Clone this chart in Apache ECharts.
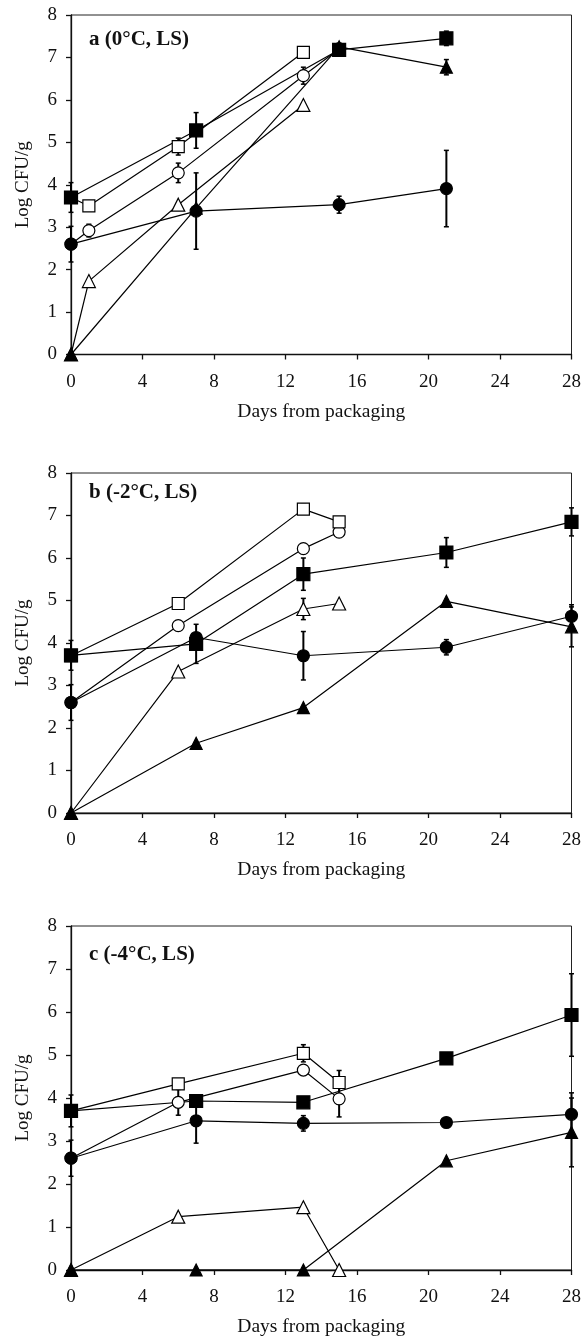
<!DOCTYPE html>
<html>
<head>
<meta charset="utf-8">
<script src="https://cdn.jsdelivr.net/npm/echarts@6/dist/echarts.min.js"></script>
<style>
html,body{margin:0;padding:0;background:#fff;}
#chart{width:584px;height:1338px;}
</style>
</head>
<body>
<div id="chart"></div>
<script>
// ---- DATA: [day, log CFU/g, error] ----
const panelTitles = ['a (0°C, LS)', 'b (-2°C, LS)', 'c (-4°C, LS)'];
const xAxisTitle = 'Days from packaging';
const yAxisTitle = 'Log CFU/g';

// Panel a (0°C)
const a_openTriangle   = [[0,0,0],[1,1.73,0],[6,3.53,0],[13,5.88,0]];
const a_openCircle     = [[0,2.6,0],[1,2.92,0.15],[6,4.28,0.23],[13,6.57,0.2],[15,7.2,0]];
const a_openSquare     = [[0,3.7,0],[1,3.5,0],[6,4.9,0.2],[13,7.12,0]];
const a_filledCircle   = [[0,2.6,0.42],[7,3.38,0.9],[15,3.53,0.2],[21,3.91,0.9]];
const a_filledTriangle = [[0,0,0],[7,3.45,0],[15,7.25,0.08],[21,6.77,0.18]];
const a_filledSquare   = [[0,3.7,0.35],[7,5.28,0.42],[15,7.18,0],[21,7.45,0.17]];

// Panel b (-2°C)
const b_openTriangle   = [[0,0,0],[6,3.33,0],[13,4.8,0.25],[15,4.93,0]];
const b_openCircle     = [[0,2.6,0],[6,4.41,0],[13,6.22,0],[15,6.61,0]];
const b_openSquare     = [[0,3.7,0],[6,4.93,0],[13,7.15,0.12],[15,6.85,0]];
const b_filledCircle   = [[0,2.6,0.42],[7,4.13,0],[13,3.7,0.57],[21,3.9,0.18],[28,4.63,0.27]];
const b_filledTriangle = [[0,0,0],[7,1.64,0],[13,2.48,0],[21,4.98,0],[28,4.38,0.47]];
const b_filledSquare   = [[0,3.71,0.35],[7,3.98,0.46],[13,5.62,0.38],[21,6.13,0.35],[28,6.85,0.33]];

// Panel c (-4°C)
const c_openTriangle   = [[0,0,0],[6,1.24,0],[13,1.46,0],[15,0,0]];
const c_openCircle     = [[0,2.6,0],[6,3.9,0.3],[13,4.65,0],[15,3.98,0.42]];
const c_openSquare     = [[0,3.7,0],[6,4.33,0],[13,5.04,0.2],[15,4.36,0.28]];
const c_filledCircle   = [[0,2.6,0.42],[7,3.47,0.52],[13,3.41,0.18],[21,3.43,0],[28,3.62,0.5]];
const c_filledTriangle = [[0,0,0],[7,0,0],[13,0,0],[21,2.54,0],[28,3.2,0.8]];
const c_filledSquare   = [[0,3.7,0.37],[7,3.93,0],[13,3.9,0],[21,4.92,0],[28,5.93,0.96]];

const panels = [
  [a_openTriangle, a_openCircle, a_openSquare, a_filledCircle, a_filledTriangle, a_filledSquare],
  [b_openTriangle, b_openCircle, b_openSquare, b_filledCircle, b_filledTriangle, b_filledSquare],
  [c_openTriangle, c_openCircle, c_openSquare, c_filledCircle, c_filledTriangle, c_filledSquare]
];

// ---- STYLE ----
const FONT = 'Liberation Serif';
const INK = '#111';
const markerStyles = [
  {symbol:'triangle', size:13, fill:'#fff'},
  {symbol:'circle',   size:12, fill:'#fff'},
  {symbol:'rect',     size:12, fill:'#fff'},
  {symbol:'circle',   size:12, fill:'#000'},
  {symbol:'triangle', size:12, fill:'#000'},
  {symbol:'rect',     size:13, fill:'#000'}
];
const grids = [
  {left:71, width:504, top:15,  height:339.5},
  {left:71, width:504, top:473, height:340},
  {left:71, width:504, top:926, height:344}
];
const titleTops = [29, 482, 944];

const option = {
  backgroundColor:'#fff',
  animation:false,
  title: panelTitles.map((t,i)=>({
    text:t, left:89, top:titleTops[i], padding:0,
    textStyle:{fontFamily:FONT, fontWeight:'bold', fontSize:21, color:INK}
  })),
  grid: grids.map(g=>Object.assign({show:true, borderColor:'#222', borderWidth:1, backgroundColor:'transparent'}, g)),
  xAxis: grids.map((g,i)=>({
    type:'value', gridIndex:i, min:0, max:28, interval:4,
    name:xAxisTitle, nameLocation:'middle', nameGap:47,
    nameTextStyle:{fontFamily:FONT, fontSize:19.5, color:INK},
    axisLine:{show:true, onZero:false, lineStyle:{color:'#111', width:1.3}},
    axisTick:{show:true, inside:false, length:5, lineStyle:{color:'#111', width:1.3}},
    axisLabel:{fontFamily:FONT, fontSize:19, color:INK, margin:18},
    splitLine:{show:false}
  })),
  yAxis: grids.map((g,i)=>({
    type:'value', gridIndex:i, min:0, max:8, interval:1,
    name:yAxisTitle, nameLocation:'middle', nameGap:38, nameRotate:90,
    nameTextStyle:{fontFamily:FONT, fontSize:19, color:INK},
    axisLine:{show:true, onZero:false, lineStyle:{color:'#111', width:1.3}},
    axisTick:{show:true, inside:false, length:5, lineStyle:{color:'#111', width:1.3}},
    axisLabel:{fontFamily:FONT, fontSize:19, color:INK, margin:14},
    splitLine:{show:false}
  })),
  series: []
};

function errorRender(params, api){
  const x = api.value(0), y = api.value(1), e = api.value(2);
  const top = api.coord([x, y + e]);
  const bot = api.coord([x, y - e]);
  const w = 2.5;
  const st = {stroke:'#000', lineWidth:2};
  const cs = {stroke:'#000', lineWidth:1.5};
  return {type:'group', children:[
    {type:'line', shape:{x1:top[0], y1:top[1], x2:bot[0], y2:bot[1]}, style:st},
    {type:'line', shape:{x1:top[0]-w, y1:top[1], x2:top[0]+w, y2:top[1]}, style:cs},
    {type:'line', shape:{x1:bot[0]-w, y1:bot[1], x2:bot[0]+w, y2:bot[1]}, style:cs}
  ]};
}

panels.forEach((seriesList, pi)=>{
  const errs = [];
  seriesList.forEach(arr=>arr.forEach(p=>{ if(p[2] > 0) errs.push(p); }));
  option.series.push({
    type:'custom', xAxisIndex:pi, yAxisIndex:pi, z:1, clip:false,
    renderItem:errorRender, encode:{x:0, y:1}, data:errs, silent:true
  });
  seriesList.forEach(arr=>{
    option.series.push({
      type:'line', xAxisIndex:pi, yAxisIndex:pi, z:2, clip:false,
      data:arr.map(p=>[p[0], p[1]]), showSymbol:false, symbol:'none',
      lineStyle:{color:'#000', width:1.2}, silent:true
    });
  });
  seriesList.forEach((arr, si)=>{
    const m = markerStyles[si];
    option.series.push({
      type:'scatter', xAxisIndex:pi, yAxisIndex:pi, z:3 + si, clip:false,
      data:arr.map(p=>[p[0], p[1]]), symbol:m.symbol, symbolSize:m.size,
      itemStyle:{color:m.fill, borderColor:'#000', borderWidth:1.2, opacity:1}, silent:true
    });
  });
});

const chart = echarts.init(document.getElementById('chart'), null, {renderer:'canvas'});
chart.setOption(option);
</script>
</body>
</html>
